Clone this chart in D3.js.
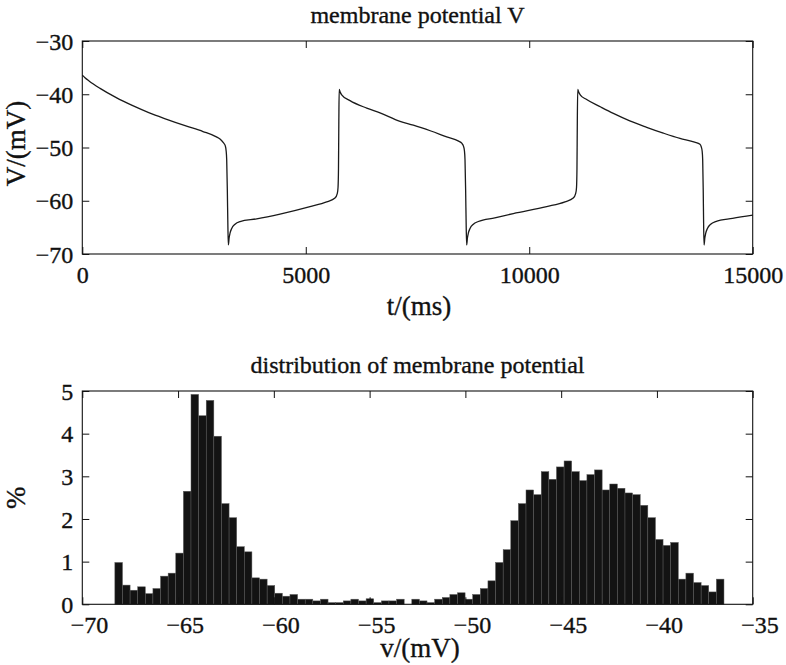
<!DOCTYPE html>
<html>
<head>
<meta charset="utf-8">
<script src="https://cdn.jsdelivr.net/npm/d3@7"></script>
<style>
  html, body { margin: 0; padding: 0; background: #fff; }
  svg { display: block; }
  svg text { font-family: "Liberation Serif", "Times New Roman", Times, serif !important; fill: #111; stroke: #111; stroke-width: 0.35px; }
</style>
</head>
<body>
<svg id="chart" width="786" height="665"></svg>
<script>
// ---------- Data: membrane potential trace ----------
const traceTime = [
  0, 60, 150, 398, 750, 1141, 1500, 1889, 2300, 2700, 3000, 3081, 3156, 3200, 3218, 3231, 3245, 3258, 3268,
  3285, 3305, 3343, 3417, 3529, 3902, 4424, 5095, 5468, 5654, 5706, 5722, 5732, 5740, 5748,
  5770, 5804, 5990, 6364, 6661, 7109, 7407, 7800, 8153, 8420, 8490, 8530, 8550, 8563, 8577, 8590, 8600,
  8617, 8637, 8675, 8750, 8860, 9230, 9644, 10390, 10800, 10985, 11040, 11058, 11068, 11076, 11085,
  11107, 11141, 11285, 11600, 11882, 12250, 12628, 13000, 13373, 13700, 13820, 13850, 13868, 13881, 13893, 13903, 13912,
  13929, 13949, 13987, 14060, 14170, 14550, 15000
];
const traceV = [
  -36.4, -36.9, -37.5, -38.9, -40.6, -42.2, -43.5, -44.7, -45.9, -47.0, -48.0, -48.4, -49.1, -49.7, -50.6, -52.3, -58, -65, -68.3,
  -67.0, -66.1, -65.2, -64.4, -63.9, -63.4, -62.5, -61.1, -60.2, -59.5, -58.6, -57.5, -54, -45, -39.1,
  -39.6, -40.1, -41.2, -42.6, -43.5, -45.1, -45.8, -46.9, -48.0, -48.8, -49.2, -49.8, -50.6, -52.3, -58, -65, -68.3,
  -67.0, -66.1, -65.2, -64.4, -63.9, -63.2, -62.4, -61.1, -60.2, -59.5, -58.6, -57.5, -54, -45, -39.1,
  -39.6, -40.1, -41.0, -42.4, -43.6, -45.0, -46.2, -47.3, -48.3, -49.0, -49.4, -49.9, -50.6, -52.3, -58, -65, -68.3,
  -67.0, -66.1, -65.2, -64.4, -63.9, -63.3, -62.7
];

// ---------- Data: histogram of membrane potential (percent per bin) ----------
const histMin = -68.3;
const histMax = -36.5;
const histPercent = [
  0.98, 0.45, 0.33, 0.41, 0.25, 0.37, 0.66, 0.73, 1.20, 2.65,
  4.92, 4.42, 4.78, 3.94, 2.36, 2.03, 1.35, 1.23, 0.62, 0.59,
  0.44, 0.26, 0.19, 0.23, 0.12, 0.12, 0.08, 0.12, 0.04, 0.04,
  0.08, 0.12, 0.08, 0.13, 0.04, 0.08, 0.08, 0.12, 0.00, 0.12,
  0.08, 0.04, 0.12, 0.16, 0.23, 0.27, 0.12, 0.23, 0.37, 0.55,
  0.98, 1.28, 1.96, 2.36, 2.68, 2.57, 3.11, 2.93, 3.22, 3.36,
  3.11, 2.90, 3.04, 3.15, 2.68, 2.82, 2.72, 2.61, 2.57, 2.32,
  2.03, 1.52, 1.38, 1.45, 0.59, 0.73, 0.51, 0.44, 0.29, 0.59
];

// ---------- Axis ticks and labels ----------
const topXTicks = [0, 5000, 10000, 15000];
const topYTicks = [-70, -60, -50, -40, -30];
const botXTicks = [-70, -65, -60, -55, -50, -45, -40, -35];
const botYTicks = [0, 1, 2, 3, 4, 5];
const topTitle = "membrane potential V";
const topXLabel = "t/(ms)";
const topYLabel = "V/(mV)";
const botTitle = "distribution of membrane potential";
const botXLabel = "v/(mV)";
const botYLabel = "%";

// ---------- Layout ----------
const FONT = '"Liberation Serif", "Times New Roman", Times, serif';
const svg = d3.select("#chart");
const L = 82.3, R = 752.7;
const top1 = 41, bot1 = 254;
const top2 = 391, bot2 = 604.3;
const tickLen = 7;
const tickFont = 24;
const fmt = d3.format("d");

function styleAxis(sel) {
  sel.attr("font-family", FONT).attr("font-size", tickFont);
}

function drawFrame(g, x, y, xTicks, yTicks) {
  const [x0, x1] = x.range();
  const [y0, y1] = y.range(); // y0 bottom, y1 top
  const ax = g.append("g").attr("transform", `translate(0,${y0})`)
    .call(d3.axisBottom(x).tickValues(xTicks).tickSize(-tickLen).tickFormat(fmt))
    .call(styleAxis);
  ax.selectAll("text")
    .attr("y", 29).attr("dy", 0)
    .attr("dx", d => d < 0 ? "0.28em" : 0);
  g.append("g").attr("transform", `translate(0,${y1})`)
    .call(d3.axisTop(x).tickValues(xTicks).tickSize(-tickLen).tickFormat(""));
  const ay = g.append("g").attr("transform", `translate(${x0},0)`)
    .call(d3.axisLeft(y).tickValues(yTicks).tickSize(-tickLen).tickFormat(fmt))
    .call(styleAxis);
  ay.selectAll("text")
    .attr("x", -9).attr("dy", "0.34em");
  g.append("g").attr("transform", `translate(${x1},0)`)
    .call(d3.axisRight(y).tickValues(yTicks).tickSize(-tickLen).tickFormat(""));
  g.selectAll(".domain").remove();
  g.selectAll(".tick line").attr("stroke", "#111").attr("stroke-width", 1);
  g.selectAll(".tick text").attr("fill", "#111")
    .attr("font-family", FONT).style("font-family", FONT).style("font-size", tickFont + "px");
  g.append("rect")
    .attr("x", x0).attr("y", y1)
    .attr("width", x1 - x0).attr("height", y0 - y1)
    .attr("fill", "none").attr("stroke", "#111").attr("stroke-width", 1.1);
}

function addText(g, x, y, size, str, rotate) {
  const t = g.append("text")
    .attr("text-anchor", "middle")
    .attr("font-family", FONT)
    .style("font-family", FONT)
    .style("font-size", size + "px")
    .text(str);
  if (rotate) t.attr("transform", `translate(${x},${y}) rotate(-90)`);
  else t.attr("x", x).attr("y", y);
  return t;
}

// ---------- Top panel: trace ----------
const xT = d3.scaleLinear().domain([0, 15000]).range([L, R]);
const yT = d3.scaleLinear().domain([-70, -30]).range([bot1, top1]);
const gTop = svg.append("g");

const tracePts = traceTime.map((t, i) => [t, traceV[i]]);
const line = d3.line().x(d => xT(d[0])).y(d => yT(d[1])).curve(d3.curveMonotoneX);
gTop.append("path")
  .datum(tracePts)
  .attr("d", line)
  .attr("fill", "none")
  .attr("stroke", "#1a1a1a")
  .attr("stroke-width", 1.3);

drawFrame(gTop, xT, yT, topXTicks, topYTicks);

addText(gTop, (L + R) / 2, 23, 24, topTitle, false);
addText(gTop, 419, 315, 27, topXLabel, false);
addText(gTop, 25, (top1 + bot1) / 2 - 4, 27, topYLabel, true);

// ---------- Bottom panel: histogram ----------
const xB = d3.scaleLinear().domain([-70, -35]).range([L, R]);
const yB = d3.scaleLinear().domain([0, 5]).range([bot2, top2]);
const gBot = svg.append("g");

const binW = (histMax - histMin) / histPercent.length;
const bins = histPercent.map((p, i) => ({ x0: histMin + i * binW, x1: histMin + (i + 1) * binW, p }));

gBot.append("g").selectAll("rect")
  .data(bins.filter(b => b.p > 0))
  .join("rect")
  .attr("x", d => xB(d.x0))
  .attr("width", d => xB(d.x1) - xB(d.x0))
  .attr("y", d => yB(d.p))
  .attr("height", d => yB(0) - yB(d.p))
  .attr("fill", "#131313")
  .attr("stroke", "#5a5a5a")
  .attr("stroke-width", 0.5);

drawFrame(gBot, xB, yB, botXTicks, botYTicks);

addText(gBot, (L + R) / 2, 373, 24, botTitle, false);
addText(gBot, 420, 657, 27, botXLabel, false);
addText(gBot, 25, (top2 + bot2) / 2, 27, botYLabel, true);
</script>
</body>
</html>
